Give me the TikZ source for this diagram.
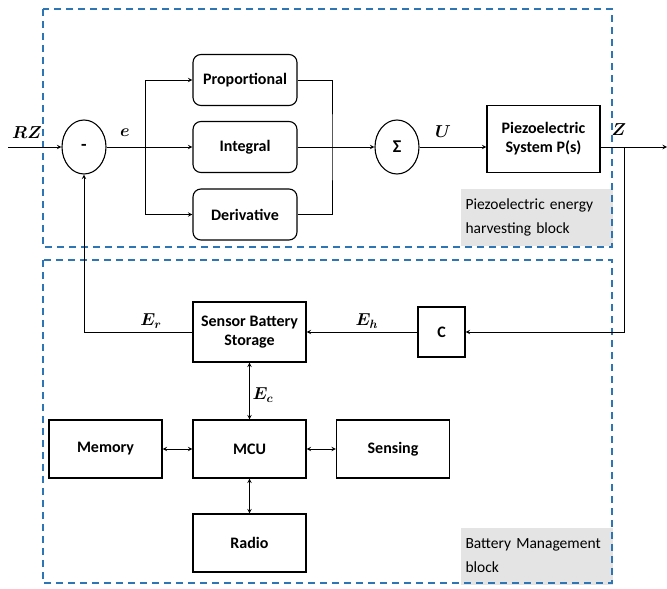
\documentclass[tikz,border=0pt]{standalone}
\usepackage{amsmath}
\usepackage{fontspec}
\setmainfont{Carlito}
\usepackage{tikz}
\usepackage{xcolor}
\usetikzlibrary{arrows,shapes,positioning}
\definecolor{dashblue}{HTML}{2E75B6}
\definecolor{notegray}{HTML}{E4E4E4}
\tikzset{
    blk/.style={draw, line width=1.1pt, minimum width=113, minimum height=58,
        inner sep=2pt, align=center, font=\fontsize{16}{19}\selectfont\bfseries},
    rblk/.style={blk, rounded corners=8pt, minimum width=104, minimum height=51},
    junc/.style={draw, ellipse, line width=1.1pt, minimum width=44, minimum height=54,
        inner sep=0pt, font=\fontsize{18}{20}\selectfont\bfseries},
    note/.style={fill=notegray, anchor=north west, text width=142, inner xsep=5pt,
        minimum height=57, align=left, font=\fontsize{15.5}{24}\selectfont},
    dashbox/.style={draw=dashblue, line width=1.6pt, dash pattern=on 7pt off 5pt},
    lbl/.style={font=\fontsize{17}{19}\selectfont}
}
\begin{document}
\begin{tikzpicture}[x=1pt, y=-1pt, >=stealth, line width=1pt]
            \useasboundingbox (0,0) rectangle (667,589);
            % Lazo del controlador PID
            \node[junc] (minus) at (84,147) {-};
            \foreach \name/\yy/\txt in {P/80/Proportional,I/147/Integral,D/214.5/Derivative} {
                \node[rblk] (\name) at (245,\yy) {\txt};
            }
            \node[junc] (sigma) at (397,147) {Σ};
            \node[blk, minimum height=67] (plant) at (543.5,139) {Piezoelectric\\System P(s)};

            % Bloque de gestion de bateria
            \node[blk, minimum height=60] (bat) at (249.5,332) {Sensor Battery\\Storage};
            \node[blk, minimum width=47, minimum height=50] (C) at (441.5,332) {C};
            \node[blk] (mcu) at (249.5,449) {MCU};
            \node[blk] (mem) at (105.5,449) {Memory};
            \node[blk] (sens) at (393,449) {Sensing};
            \node[blk] (radio) at (249.5,543) {Radio};

            % notas y recuadros
            \node[note] (pnote) at (460,188) {Piezoelectric energy\\harvesting block};
            \node[note] (bnote) at (460,527) {Battery Management\\block};
            \draw[dashbox] (43,9) rectangle (612,247);
            \draw[dashbox] (43,260) rectangle (612,583);

            % conexiones
            \coordinate (in) at (8,147);
            \coordinate (split) at (145,147);
            \coordinate (join) at (332,147);
            \coordinate (tap) at (624,147);
            \coordinate (out) at (667,147);
            \draw[->] (in) -- (minus);
            \draw[->] (minus) -- (I);
            \draw[->] (split) |- (P.west);
            \draw[->] (split) |- (D.west);
            \draw (P.east) -| (join) |- (D.east);
            \draw[->] (I) -- (sigma);
            \draw[->] (sigma) -- (plant.west |- sigma);
            \draw[->] (plant.east |- sigma) -- (out);
            \draw[->] (tap) |- (C.east);
            \draw[->] (C) -- (bat);
            \draw[->] (bat.west) -| (minus.south);
            \draw[<->] (bat) -- (mcu);
            \draw[<->] (mem) -- (mcu);
            \draw[<->] (mcu) -- (sens);
            \draw[<->] (mcu) -- (radio);

            % etiquetas
            \node[lbl] (rz) at (27,133) {$\boldsymbol{RZ}$};
            \node[lbl] (e) at (125,133) {$\boldsymbol{e}$};
            \node[lbl] (u) at (443,132) {$\boldsymbol{U}$};
            \node[lbl] (z) at (619,130) {$\boldsymbol{Z}$};
            \node[lbl] (er) at (151,321) {$\boldsymbol{E_r}$};
            \node[lbl] (eh) at (367,321) {$\boldsymbol{E_h}$};
            \node[lbl] (ec) at (263,395) {$\boldsymbol{E_c}$};
        \end{tikzpicture}
\end{document}
